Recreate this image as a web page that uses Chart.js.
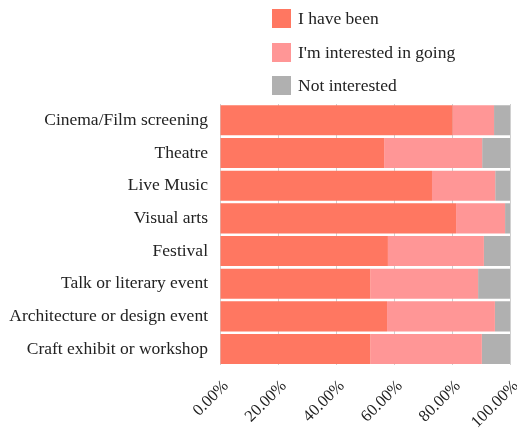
<!DOCTYPE html>
<html lang="en">
<head>
<meta charset="UTF-8">
<title>Attendance</title>
<script src="https://cdn.jsdelivr.net/npm/chart.js@4/dist/chart.umd.min.js"></script>
<style>
    html, body {
        margin: 0;
        padding: 0;
        background: #FFFFFF;
    }
    .chart-wrap {
        position: relative;
        width: 517px;
        height: 432px;
    }
    .legend {
        position: absolute;
        left: 272px;
        top: 9px;
        font-family: 'Liberation Serif', serif;
        font-size: 17.5px;
        color: #222222;
    }
    .legend-item {
        display: flex;
        align-items: center;
        height: 19px;
        margin-bottom: 14.7px;
    }
    .legend-box {
        width: 19px;
        height: 19px;
        margin-right: 7px;
    }
</style>
</head>
<body>
<div class="chart-wrap">
    <canvas id="attendanceChart"></canvas>
    <div class="legend"></div>
</div>
<script>
const categories = [
    'Cinema/Film screening',
    'Theatre',
    'Live Music',
    'Visual arts',
    'Festival',
    'Talk or literary event',
    'Architecture or design event',
    'Craft exhibit or workshop'
];
const seriesNames = ['I have been', "I'm interested in going", 'Not interested'];
const haveBeen = [80.2, 56.6, 73.1, 81.4, 57.9, 51.8, 57.6, 51.8];
const interested = [14.3, 33.8, 21.8, 16.9, 33.1, 37.2, 37.2, 38.5];
const notInterested = [5.5, 9.6, 5.1, 1.7, 9.0, 11.0, 5.2, 9.7];
const xTicks = [0, 20, 40, 60, 80, 100];

const seriesColors = ['#FF7761', '#FF9696', '#B0B0B0'];
const fontFamily = 'Liberation Serif';

document.addEventListener('DOMContentLoaded', () => {
    renderChart();
    renderLegend();
});

function renderChart() {
    const ctx = document.getElementById('attendanceChart').getContext('2d');
    const values = [haveBeen, interested, notInterested];

    new Chart(ctx, {
        type: 'bar',
        data: {
            labels: categories,
            datasets: values.map((data, i) => ({
                label: seriesNames[i],
                data: data,
                backgroundColor: seriesColors[i],
                borderWidth: 0,
                barPercentage: 0.92,
                categoryPercentage: 1
            }))
        },
        options: {
            indexAxis: 'y',
            responsive: true,
            maintainAspectRatio: false,
            animation: false,
            layout: {
                padding: { top: 104, right: 7, bottom: 0, left: 0 }
            },
            plugins: {
                legend: { display: false },
                tooltip: { enabled: false }
            },
            scales: {
                x: {
                    stacked: true,
                    min: xTicks[0],
                    max: xTicks[xTicks.length - 1],
                    afterBuildTicks: (scale) => {
                        scale.ticks = xTicks.map(v => ({ value: v }));
                    },
                    afterFit: (scale) => {
                        // keep the rotated labels from squeezing the plot
                        scale.height = 66.6;
                        scale.paddingLeft = 0;
                        scale.paddingRight = 0;
                    },
                    grid: {
                        color: '#D0D0D0',
                        drawTicks: false
                    },
                    border: { display: false },
                    ticks: {
                        minRotation: 45,
                        maxRotation: 45,
                        padding: 11,
                        labelOffset: 6,
                        color: '#222222',
                        font: { family: fontFamily, size: 16.5 },
                        callback: (v) => v.toFixed(2) + '%'
                    }
                },
                y: {
                    stacked: true,
                    afterFit: (scale) => {
                        scale.width = 220;
                    },
                    grid: { display: false, drawTicks: false },
                    border: { display: false },
                    ticks: {
                        padding: 12,
                        color: '#222222',
                        font: { family: fontFamily, size: 17.5 }
                    }
                }
            }
        }
    });
}

function renderLegend() {
    const legend = document.querySelector('.legend');
    legend.innerHTML = seriesNames.map((name, i) => `
        <div class="legend-item">
            <span class="legend-box" style="background:${seriesColors[i]}"></span>
            <span>${name}</span>
        </div>
    `).join('');
}
</script>
</body>
</html>
